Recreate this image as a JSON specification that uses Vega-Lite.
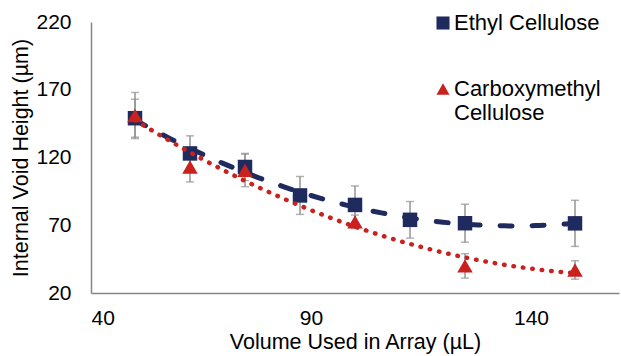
{
  "$schema": "https://vega.github.io/schema/vega-lite/v6.json",
  "width": 528,
  "height": 271,
  "autosize": {"type": "none"},
  "padding": {"left": 91, "top": 22, "right": 2, "bottom": 63},
  "background": "white",
  "datasets": {
    "pts": [
      {"series": "Ethyl Cellulose", "volume": 50, "height": 149, "err": 14},
      {"series": "Ethyl Cellulose", "volume": 62.5, "height": 123, "err": 13},
      {"series": "Ethyl Cellulose", "volume": 75, "height": 113, "err": 10},
      {"series": "Ethyl Cellulose", "volume": 87.5, "height": 92, "err": 14},
      {"series": "Ethyl Cellulose", "volume": 100, "height": 85, "err": 14},
      {"series": "Ethyl Cellulose", "volume": 112.5, "height": 74, "err": 13.5},
      {"series": "Ethyl Cellulose", "volume": 125, "height": 71.5, "err": 14},
      {"series": "Ethyl Cellulose", "volume": 150, "height": 71.4, "err": 17},
      {"series": "Carboxymethyl Cellulose", "volume": 50, "height": 151, "err": 17},
      {"series": "Carboxymethyl Cellulose", "volume": 62.5, "height": 113, "err": 11},
      {"series": "Carboxymethyl Cellulose", "volume": 75, "height": 110.5, "err": 12},
      {"series": "Carboxymethyl Cellulose", "volume": 100, "height": 72.5, "err": 5},
      {"series": "Carboxymethyl Cellulose", "volume": 125, "height": 40, "err": 9},
      {"series": "Carboxymethyl Cellulose", "volume": 150, "height": 37, "err": 6.8}
    ]
  },
  "data": {"name": "pts"},
  "config": {
    "view": {"stroke": null},
    "font": "Liberation Sans",
    "axis": {
      "domainColor": "#868686",
      "domainWidth": 1.5,
      "ticks": false,
      "grid": false,
      "labelFont": "Liberation Sans",
      "labelFontSize": 21,
      "labelColor": "#000000",
      "titleFont": "Liberation Sans",
      "titleFontSize": 21.5,
      "titleFontWeight": "normal",
      "titleColor": "#000000"
    },
    "axisX": {"labelPadding": 14, "titlePadding": 3},
    "axisY": {"labelPadding": 20, "titlePadding": 3}
  },
  "encoding": {
    "x": {
      "field": "volume",
      "type": "quantitative",
      "scale": {"domain": [40, 160], "nice": false},
      "axis": {"values": [40, 90, 140], "title": "Volume Used in Array (µL)"}
    },
    "y": {
      "field": "height",
      "type": "quantitative",
      "scale": {"domain": [20, 220], "nice": false, "zero": false},
      "axis": {"values": [20, 70, 120, 170, 220], "title": "Internal Void Height (µm)"}
    }
  },
  "layer": [
    {
      "transform": [{"filter": "datum.series == 'Ethyl Cellulose'"}],
      "mark": {"type": "errorbar", "ticks": true, "color": "#939393", "thickness": 1.5, "size": 8},
      "encoding": {"yError": {"field": "err"}}
    },
    {
      "transform": [{"filter": "datum.series == 'Carboxymethyl Cellulose'"}],
      "mark": {"type": "errorbar", "ticks": true, "color": "#939393", "thickness": 1.5, "size": 8},
      "encoding": {"yError": {"field": "err"}}
    },
    {
      "transform": [{"filter": "datum.series == 'Ethyl Cellulose'"}],
      "mark": {"type": "point", "filled": true, "opacity": 1, "size": 210},
      "encoding": {
        "color": {
          "field": "series", "type": "nominal",
          "scale": {"domain": ["Ethyl Cellulose", "Carboxymethyl Cellulose"], "range": ["#1F2B5F", "#C9211E"]},
          "legend": {"orient": "none", "legendX": 341, "legendY": -10, "title": null, "padding": 0, "labelFontSize": 22, "labelColor": "#000000", "labelFont": "Liberation Sans", "symbolSize": 170, "labelOffset": 0, "rowPadding": 44, "labelLimit": 300, "labelExpr": "datum.label == 'Carboxymethyl Cellulose' ? ['Carboxymethyl', 'Cellulose'] : datum.label"}
        },
        "shape": {
          "field": "series", "type": "nominal",
          "scale": {"domain": ["Ethyl Cellulose", "Carboxymethyl Cellulose"], "range": ["square", "triangle-up"]},
          "legend": {"orient": "none", "legendX": 341, "legendY": -10, "title": null, "padding": 0, "labelFontSize": 22, "labelColor": "#000000", "labelFont": "Liberation Sans", "symbolSize": 170, "labelOffset": 0, "rowPadding": 44, "labelLimit": 300, "labelExpr": "datum.label == 'Carboxymethyl Cellulose' ? ['Carboxymethyl', 'Cellulose'] : datum.label"}
        }
      }
    },
    {
      "transform": [
        {"filter": "datum.series == 'Ethyl Cellulose'"},
        {"regression": "height", "on": "volume", "method": "poly", "order": 2, "extent": [50, 150]}
      ],
      "mark": {"type": "line", "color": "#1F2B5F", "strokeWidth": 5, "strokeDash": [12, 20], "strokeCap": "round"}
    },
    {
      "transform": [
        {"filter": "datum.series == 'Carboxymethyl Cellulose'"},
        {"regression": "height", "on": "volume", "method": "poly", "order": 2, "extent": [50, 150]}
      ],
      "mark": {"type": "line", "color": "#C9211E", "strokeWidth": 4.5, "strokeDash": [0.5, 9], "strokeCap": "round"}
    },
    {
      "transform": [{"filter": "datum.series == 'Carboxymethyl Cellulose'"}],
      "mark": {"type": "point", "filled": true, "opacity": 1, "size": 240},
      "encoding": {
        "color": {
          "field": "series", "type": "nominal",
          "scale": {"domain": ["Ethyl Cellulose", "Carboxymethyl Cellulose"], "range": ["#1F2B5F", "#C9211E"]},
          "legend": {"orient": "none", "legendX": 341, "legendY": -10, "title": null, "padding": 0, "labelFontSize": 22, "labelColor": "#000000", "labelFont": "Liberation Sans", "symbolSize": 170, "labelOffset": 0, "rowPadding": 44, "labelLimit": 300, "labelExpr": "datum.label == 'Carboxymethyl Cellulose' ? ['Carboxymethyl', 'Cellulose'] : datum.label"}
        },
        "shape": {
          "field": "series", "type": "nominal",
          "scale": {"domain": ["Ethyl Cellulose", "Carboxymethyl Cellulose"], "range": ["square", "triangle-up"]},
          "legend": {"orient": "none", "legendX": 341, "legendY": -10, "title": null, "padding": 0, "labelFontSize": 22, "labelColor": "#000000", "labelFont": "Liberation Sans", "symbolSize": 170, "labelOffset": 0, "rowPadding": 44, "labelLimit": 300, "labelExpr": "datum.label == 'Carboxymethyl Cellulose' ? ['Carboxymethyl', 'Cellulose'] : datum.label"}
        }
      }
    }
  ]
}
